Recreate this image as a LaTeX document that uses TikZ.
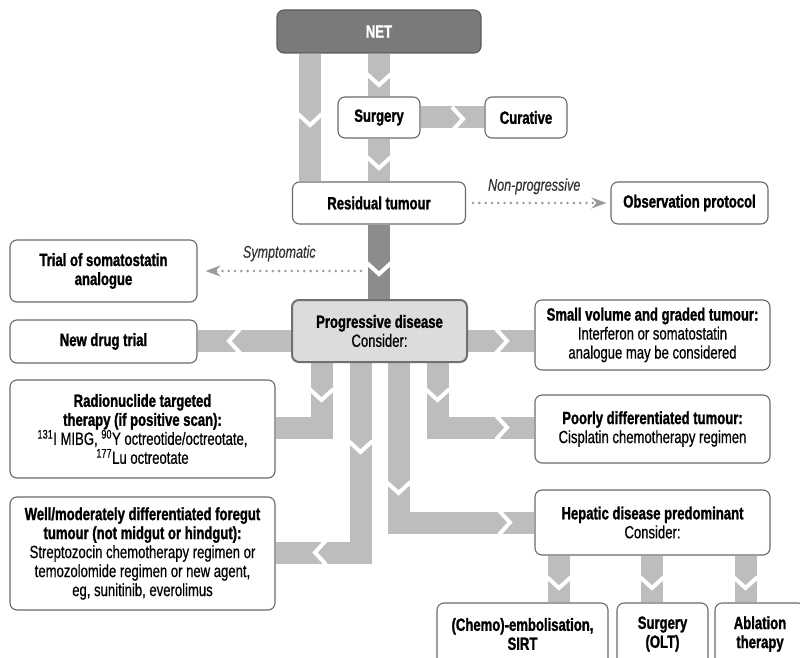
\documentclass[tikz,border=0pt]{standalone}
\usepackage{fontspec}
\setmainfont[FakeStretch=0.74,
  UprightFeatures={FakeBold=0.5},
  BoldFeatures={FakeBold=1.3},
  ItalicFeatures={FakeBold=0.4}]{Liberation Sans}
\usetikzlibrary{arrows.meta,backgrounds}
\definecolor{bandc}{HTML}{BDBDBD}
\definecolor{darkband}{HTML}{8C8C8C}
\definecolor{netfill}{HTML}{7A7A7A}
\definecolor{netborder}{HTML}{5A5A5A}
\definecolor{boxc}{HTML}{6A6A6A}
\definecolor{progfill}{HTML}{DCDCDC}
\definecolor{progborder}{HTML}{707070}
\definecolor{dotc}{HTML}{999999}
\begin{document}
\begin{tikzpicture}[x=1pt,y=-1pt,
  box/.style={draw=boxc, line width=1.1pt, rounded corners=7pt, fill=white, align=center,
    inner sep=0pt, font=\fontsize{17.7}{19}\selectfont},
  netbox/.style={box, fill=netfill, draw=netborder, text=white},
  progbox/.style={box, fill=progfill, draw=progborder, line width=2pt},
  band/.style={draw=bandc, line width=22pt},
  dband/.style={draw=darkband, line width=22pt},
  dotarrow/.style={draw=dotc, line width=2.8pt, line cap=round, dash pattern=on 0pt off 6.3pt,
    -{Stealth[length=15pt,width=11pt,inset=5pt,fill=dotc]}},
  lbl/.style={font=\fontsize{17}{19}\selectfont\itshape, text=black!80},
  chev/.pic={\draw[white,line width=4pt] (-12,-6) -- (0,5) -- (12,-6);}
]
\useasboundingbox (0,0) rectangle (800,658);

% ---------- nodes ----------
\node[netbox, minimum width=204pt, minimum height=43pt] (net) at (379,31.5) {\textbf{NET}};
\node[box, minimum width=82pt, minimum height=41pt] (surg) at (379,117.5) {\textbf{Surgery}};
\node[box, minimum width=82pt, minimum height=41pt] (cur) at (526,117.5) {\textbf{Curative}};
\node[box, minimum width=173pt, minimum height=42pt] (res) at (379,203) {\textbf{Residual tumour}};
\node[box, minimum width=157pt, minimum height=42pt] (obs) at (689.5,203) {\textbf{Observation protocol}};
\node[box, minimum width=187pt, minimum height=62pt] (trial) at (103.5,271) {\textbf{Trial of somatostatin}\\\textbf{analogue}};
\node[progbox, minimum width=175pt, minimum height=62pt] (prog) at (379.5,331) {\textbf{Progressive disease}\\Consider:};
\node[box, minimum width=187pt, minimum height=43pt] (newd) at (103.5,341.5) {\textbf{New drug trial}};
\node[box, minimum width=235pt, minimum height=70pt] (small) at (652.5,335) {\textbf{Small volume and graded tumour:}\\Interferon or somatostatin\\analogue may be considered};
\node[box, minimum width=265pt, minimum height=98pt] (radio) at (142.5,429) {\textbf{Radionuclide targeted}\\\textbf{therapy (if positive scan):}\\\textsuperscript{131}I MIBG, \textsuperscript{90}Y octreotide/octreotate,\\\textsuperscript{177}Lu octreotate};
\node[box, minimum width=235pt, minimum height=68pt] (poor) at (652.5,429) {\textbf{Poorly differentiated tumour:}\\Cisplatin chemotherapy regimen};
\node[box, minimum width=265pt, minimum height=113pt] (well) at (142.5,553.5) {\textbf{Well/moderately differentiated foregut}\\\textbf{tumour (not midgut or hindgut):}\\Streptozocin chemotherapy regimen or\\temozolomide regimen or new agent,\\eg, sunitinib, everolimus};
\node[box, minimum width=235pt, minimum height=65pt] (hep) at (652.5,522.5) {\textbf{Hepatic disease predominant}\\Consider:};
\node[box, minimum width=171pt, minimum height=62pt] (chemo) at (522.5,634) {\textbf{(Chemo)-embolisation,}\\\textbf{SIRT}};
\node[box, minimum width=91pt, minimum height=62pt] (olt) at (662.5,634) {\textbf{Surgery}\\\textbf{(OLT)}};
\node[box, minimum width=90pt, minimum height=62pt] (abl) at (760,634) {\textbf{Ablation}\\\textbf{therapy}};

% ---------- helper coordinates ----------
\coordinate (bandY) at (0,341);
\coordinate (b1) at (321.5,427.5);
\coordinate (b2) at (360.5,552.5);
\coordinate (b3) at (398.5,522.5);
\coordinate (b4) at (437.5,427.5);
\coordinate (symS) at (361,271);

% ---------- bands and chevrons (behind boxes) ----------
\begin{scope}[on background layer]
\path[band] ([xshift=-69pt]net.south) -- ([xshift=-69pt]net.south |- res.north);
\path[band] (net.south) -- (surg.north);
\path[band] (surg.east) -- (cur.west);
\path[band] (surg.south) -- (res.north);
\path[dband] (res.south) -- (res.south |- prog.north);
\path[band] (prog.west |- bandY) -- (newd.east |- bandY);
\path[band] (prog.east |- bandY) -- (small.west |- bandY);
\path[band] (prog.south -| b1) -- (b1) -- (b1 -| radio.east);
\path[band] (prog.south -| b2) -- (b2) -- (b2 -| well.east);
\path[band] (prog.south -| b3) -- (b3) -- (b3 -| hep.west);
\path[band] (prog.south -| b4) -- (b4) -- (b4 -| poor.west);
\path[band] ([xshift=-93.5pt]hep.south) -- ([xshift=-93.5pt]hep.south |- chemo.north);
\path[band] ([xshift=-0.5pt]hep.south) -- ([xshift=-0.5pt]hep.south |- olt.north);
\path[band] ([xshift=93pt]hep.south) -- ([xshift=93pt]hep.south |- abl.north);

\pic at (310,120) {chev};
\pic at (379,80) {chev};
\pic[rotate=90] at (458,119) {chev};
\pic at (379,163) {chev};
\pic at (379,269) {chev};
\pic[rotate=-90] at (234,341) {chev};
\pic[rotate=90] at (502,341) {chev};
\pic at (321.5,395) {chev};
\pic at (437.5,395) {chev};
\pic[rotate=90] at (502,427.5) {chev};
\pic at (360.5,447) {chev};
\pic[rotate=-90] at (320,552.5) {chev};
\pic at (398.5,488) {chev};
\pic[rotate=90] at (505,522.5) {chev};
\pic at (559,583) {chev};
\pic at (652,583) {chev};
\pic at (745.5,583) {chev};
\end{scope}

% ---------- dotted arrows ----------
\draw[dotarrow, shorten <=7pt, shorten >=4pt] (res.east) -- (obs.west)
  node[lbl, midway, above=4pt, xshift=-4pt] {Non-progressive};
\draw[dotarrow, shorten >=8pt] (symS) -- (trial.east |- symS)
  node[lbl, midway, above=5pt] {Symptomatic};
\end{tikzpicture}
\end{document}
